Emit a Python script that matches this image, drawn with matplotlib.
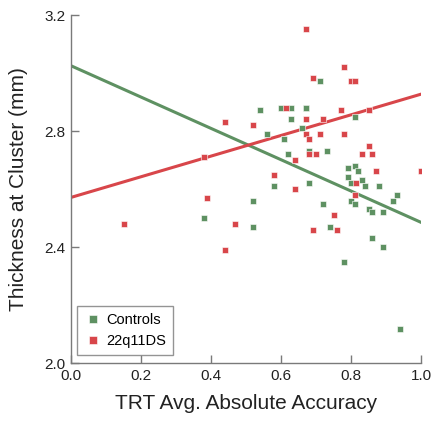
import numpy as np
import matplotlib
matplotlib.use("Agg")
import matplotlib.pyplot as plt

plt.rcParams['font.family'] = ['Liberation Sans', 'DejaVu Sans']

# Controls (green)
controls_x = [0.670, 0.710, 0.540, 0.600, 0.629, 0.670, 0.810, 0.629, 0.660, 0.560,
              0.609, 0.620, 0.680, 0.730, 0.790, 0.810, 0.820, 0.790, 0.799, 0.830,
              0.840, 0.880, 0.580, 0.680, 0.930, 0.520, 0.920, 0.720, 0.800, 0.810,
              0.850, 0.860, 0.890, 0.520, 0.740, 0.860, 0.890, 0.780, 0.940, 0.379]
controls_y = [2.881, 2.971, 2.871, 2.881, 2.881, 2.881, 2.850, 2.840, 2.811, 2.791,
              2.771, 2.721, 2.731, 2.731, 2.671, 2.680, 2.661, 2.641, 2.621, 2.631,
              2.610, 2.610, 2.610, 2.621, 2.580, 2.560, 2.560, 2.550, 2.560, 2.550,
              2.530, 2.520, 2.520, 2.470, 2.470, 2.430, 2.400, 2.349, 2.118, 2.500]

# 22q11DS (red)
ds_x = [0.670, 0.780, 0.690, 0.799, 0.811, 0.614, 0.770, 0.850, 0.670, 0.720,
        0.520, 0.670, 0.710, 0.780, 0.680, 0.850, 0.680, 0.700, 0.830, 0.860,
        0.640, 0.580, 0.870, 1.000, 0.814, 0.640, 0.810, 0.751, 0.690, 0.760,
        0.389, 0.150, 0.469, 0.439, 0.439, 0.379]
ds_y = [3.152, 3.022, 2.982, 2.971, 2.971, 2.881, 2.871, 2.871, 2.840, 2.840,
        2.821, 2.791, 2.791, 2.791, 2.771, 2.750, 2.721, 2.721, 2.721, 2.721,
        2.701, 2.650, 2.661, 2.661, 2.621, 2.600, 2.580, 2.510, 2.460, 2.460,
        2.570, 2.479, 2.479, 2.390, 2.830, 2.711]

# Regression fits (intercept, slope)
controls_fit = [3.025, -0.540]
ds_fit = [2.571, 0.356]

green = '#5e9162'
red = '#d8464a'
spine_gray = '#7a7a7a'

fig = plt.figure(figsize=(4.37, 4.23), dpi=100)
ax = fig.add_axes([71/437, 1 - 363/423, 350/437, 348/423])

xl = np.array([0.0, 1.0])
ax.plot(xl, controls_fit[0] + controls_fit[1] * xl, color=green, lw=2.2, zorder=2)
ax.plot(xl, ds_fit[0] + ds_fit[1] * xl, color=red, lw=2.2, zorder=2)

ax.plot(controls_x, controls_y, 's', color=green, ms=4.8, mec='white', mew=0.4,
        label='Controls', zorder=3)
ax.plot(ds_x, ds_y, 's', color=red, ms=4.8, mec='white', mew=0.4,
        label='22q11DS', zorder=3)

ax.set_xlim(0, 1.0)
ax.set_ylim(2.0, 3.2)
ax.set_xticks([0.0, 0.2, 0.4, 0.6, 0.8, 1.0])
ax.set_xticklabels(['0.0', '0.2', '0.4', '0.6', '0.8', '1.0'])
ax.set_yticks([2.0, 2.4, 2.8, 3.2])
ax.set_yticklabels(['2.0', '2.4', '2.8', '3.2'])

for s in ['top', 'right']:
    ax.spines[s].set_visible(False)
for s in ['left', 'bottom']:
    ax.spines[s].set_color(spine_gray)
    ax.spines[s].set_linewidth(1.0)

ax.tick_params(direction='in', length=6, width=1.0, color=spine_gray,
               labelsize=11, labelcolor='#222222', pad=4)

ax.set_xlabel('TRT Avg. Absolute Accuracy', fontsize=15, color='#222222', labelpad=8)
ax.set_ylabel('Thickness at Cluster (mm)', fontsize=15, color='#222222', labelpad=12)

leg = ax.legend(loc='lower left', bbox_to_anchor=(0.006, 0.012), fontsize=10.5,
                frameon=True, fancybox=False, edgecolor=spine_gray,
                borderaxespad=0.25,
                handletextpad=0.3, borderpad=0.5, labelspacing=0.45,
                handlelength=1.2, markerscale=1.1)
leg.get_frame().set_linewidth(1.0)

fig.savefig('out.png', dpi=100)
